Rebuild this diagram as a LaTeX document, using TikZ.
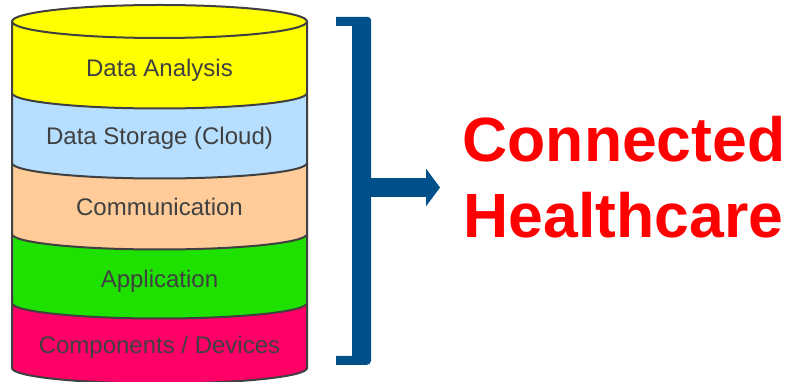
\documentclass[tikz,border=0pt]{standalone}
\usepackage{fontspec}
\setmainfont{Liberation Sans}
\usepackage{tikz}
\usetikzlibrary{arrows.meta,positioning}
\definecolor{cylgray}{RGB}{64,64,64}
\definecolor{textgray}{RGB}{64,64,64}
\definecolor{analysis}{RGB}{255,255,0}
\definecolor{storage}{RGB}{182,223,255}
\definecolor{comm}{RGB}{255,204,153}
\definecolor{app}{RGB}{30,225,0}
\definecolor{devices}{RGB}{255,0,102}
\definecolor{bracketblue}{RGB}{0,80,138}
\tikzset{
layer/.style = {draw=cylgray, line width=2pt},
layertext/.style = {anchor=base, text=textgray, font=\fontsize{24}{28}\selectfont},
title/.style = {anchor=base west, text=red, font=\fontsize{62.5}{70}\bfseries\selectfont},
bar/.style = {fill=bracketblue, draw=none},
lowarc/.style = {x radius=147.5, y radius=15.5}
}
\begin{document}
\begin{tikzpicture}[x=1pt, y=1pt]
    \useasboundingbox (0,0) rectangle (792,382);
    % cylinder, bottom layer first
    \fill [devices] (12,79) -- (12,14) arc[start angle=180, end angle=360, lowarc]
      -- (307,79) arc[start angle=360, end angle=180, lowarc] -- cycle;
    \draw [layer] (12,79) -- (12,14) arc[start angle=180, end angle=360, lowarc] -- (307,79);
    \fill [app] (12,148) -- (12,79) arc[start angle=180, end angle=360, lowarc]
      -- (307,148) arc[start angle=360, end angle=180, lowarc] -- cycle;
    \draw [layer] (12,148) -- (12,79) arc[start angle=180, end angle=360, lowarc] -- (307,148);
    \fill [comm] (12,219) -- (12,148) arc[start angle=180, end angle=360, lowarc]
      -- (307,219) arc[start angle=360, end angle=180, lowarc] -- cycle;
    \draw [layer] (12,219) -- (12,148) arc[start angle=180, end angle=360, lowarc] -- (307,219);
    \fill [storage] (12,289) -- (12,219) arc[start angle=180, end angle=360, lowarc]
      -- (307,289) arc[start angle=360, end angle=180, lowarc] -- cycle;
    \draw [layer] (12,289) -- (12,219) arc[start angle=180, end angle=360, lowarc] -- (307,289);
    \fill [analysis] (12,360.5) -- (12,289) arc[start angle=180, end angle=360, lowarc]
      -- (307,360.5) arc[start angle=0, end angle=180, x radius=147.5, y radius=16.5] -- cycle;
    \draw [layer] (12,360.5) -- (12,289) arc[start angle=180, end angle=360, lowarc] -- (307,360.5);
    \draw [layer] (159.5,360.5) ellipse [x radius=147.5, y radius=16.5];
    % layer labels
    \node [layertext] (analysistext) at (159.5,305) {Data Analysis};
    \node [layertext] (storagetext) at (159.5,237) {Data Storage (Cloud)};
    \node [layertext] (commtext) at (159.5,166) {Communication};
    \node [layertext] (apptext) at (159.5,94) {Application};
    \node [layertext] (devicestext) at (159.5,28) {Components / Devices};
    % bracket and arrow
    \fill [bar] (336,365) -- (368,365) to[out=0,in=90] (371,362) -- (371,21)
      to[out=-90,in=0] (366,17) -- (336,17) -- (336,26) -- (352,26) -- (352,356)
      -- (336,356) -- cycle;
    \coordinate (bracket) at (370,194.5);
    \coordinate (tip) at (440,194.5);
    \draw [bracketblue, line width=19pt, -{Triangle[length=14pt, width=37pt]}] (bracket) -- (tip);
    % title
    \node [title] (connected) at (459,220) {Connected};
    \node [title] (healthcare) at (460,144) {Healthcare};
\end{tikzpicture}
\end{document}
